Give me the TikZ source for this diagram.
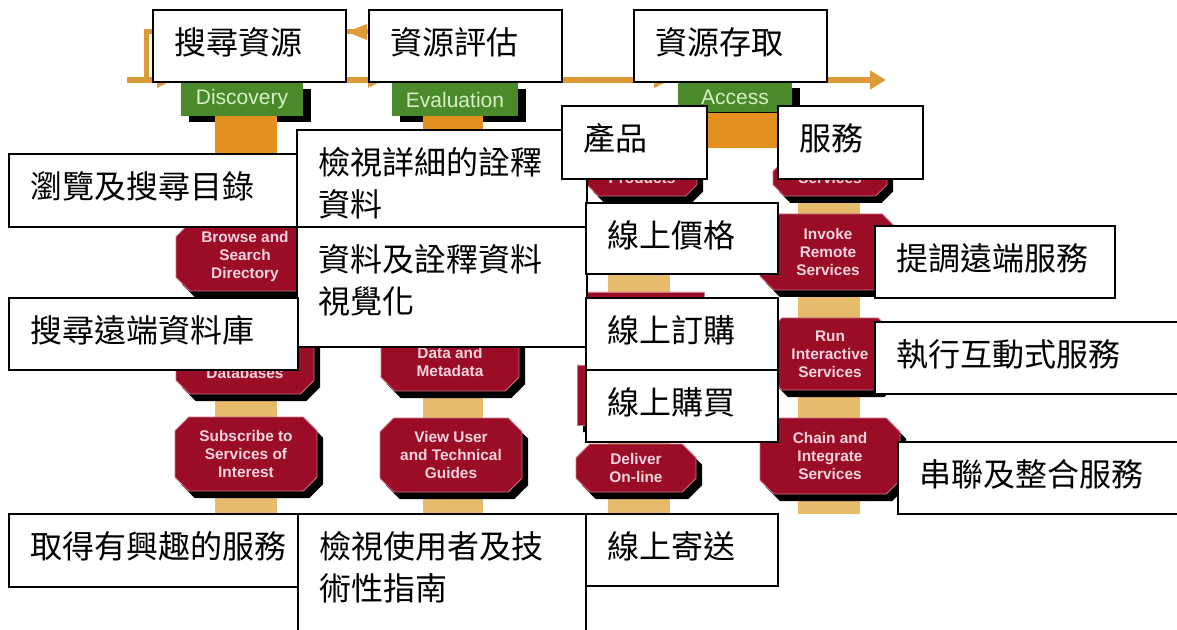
\documentclass[tikz,border=0pt]{standalone}
\usepackage{fontspec}
\setsansfont{Liberation Sans}
\newfontfamily\zhfont{Noto Sans CJK TC}
\usetikzlibrary{positioning,shadows,shapes.misc,arrows.meta}
\definecolor{flowOrange}{HTML}{DE9A36}
\definecolor{barOrange}{HTML}{E3901E}
\definecolor{lightBar}{HTML}{E6BC6C}
\definecolor{phaseGreen}{HTML}{4A8A2B}
\definecolor{phaseText}{HTML}{D8F0C4}
\definecolor{stepRed}{HTML}{9B0C26}
\definecolor{stepText}{HTML}{F6D4DC}
\tikzset{
  phase/.style={rectangle, fill=phaseGreen, text=phaseText, inner sep=0pt,
    font={\sffamily\fontsize{10.5}{12}\selectfont},
    drop shadow={shadow xshift=4pt, shadow yshift=-3pt, fill=black, opacity=1}},
  stepBox/.style={chamfered rectangle, chamfered rectangle xsep=4pt, fill=stepRed,
    draw=stepRed!55!white, line width=0.4pt, text=stepText, align=center, inner sep=0pt,
    font={\sffamily\bfseries\fontsize{7.7}{9}\selectfont},
    drop shadow={shadow xshift=3pt, shadow yshift=-3.5pt, fill=black, opacity=1}},
  textBox/.style={draw=black, fill=white, line width=0.65pt},
  zhText/.style={anchor=north west, inner sep=0pt, align=left, font={\zhfont\fontsize{16}{21}\selectfont}},
  flowLine/.style={draw=flowOrange, line width=3pt},
  flowTip/.style={fill=flowOrange}
}
% white label box: name, left, top, right, bottom, text
\newcommand{\zhBox}[6]{%
  \draw[textBox] (#2,#3) rectangle (#4,#5);
  \node[zhText] (#1) at (#2+21,#3+17) {#6};
}
\begin{document}
\begin{tikzpicture}[x=0.5pt, y=-0.5pt]
  \useasboundingbox (0,0) rectangle (1177,630);

  % flow line and loop back
  \coordinate (flowStart) at (127,80);
  \coordinate (flowEnd) at (886,80);
  \coordinate (loopStart) at (455,32);
  \coordinate (loopCorner) at (146,32);
  \coordinate (loopEnd) at (146,80);
  \draw[flowLine, -{Triangle[length=8pt, width=9pt]}] (flowStart) -- (flowEnd);
  \draw[flowLine, line width=2.5pt] (loopStart) -- (loopCorner) -- (loopEnd);
  \fill[flowTip] (347,32) -- (367,24) -- (367,40) -- cycle;
  \foreach \tipx in {173,384,670}
    \fill[flowTip] (\tipx-16,72) -- (\tipx,80) -- (\tipx-16,88) -- cycle;

  % phases
  \node[phase, minimum width=61pt, minimum height=16.5pt] (discovery) at (242,99.5) {Discovery};
  \node[phase, minimum width=63pt, minimum height=16.5pt] (evaluation) at (455,99.5) {Evaluation};
  \node[phase, minimum width=57pt, minimum height=15pt] (access) at (735,97.5) {Access};

  % bars
  \fill[barOrange] (215,116) rectangle (277,230);
  \fill[barOrange] (423,116) rectangle (483,230);
  \fill[barOrange] (608,113) rectangle (860,148);
  \fill[lightBar] (215,230) rectangle (277,514);
  \fill[lightBar] (423,230) rectangle (483,514);
  \fill[lightBar] (608,148) rectangle (670,514);
  \fill[lightBar] (798,148) rectangle (860,514);

  % steps
  \node[stepBox, minimum width=69pt, minimum height=34pt] (browse) at (245,257) {Browse and\\Search\\Directory};
  \node[stepBox, minimum width=69pt, minimum height=39pt] (remoteDb) at (245,355) {\vphantom{Ag}\\\vphantom{Ag}\\Databases};
  \node[stepBox, minimum width=71pt, minimum height=37pt] (subscribe) at (246,454) {Subscribe to\\Services of\\Interest};
  \node[stepBox, minimum width=69pt, minimum height=38pt] (visualize) at (450,353) {\vphantom{Ag}\\Data and\\Metadata};
  \node[stepBox, minimum width=71pt, minimum height=37pt] (guides) at (451,455) {View User\\and Technical\\Guides};
  \node[stepBox, minimum width=55pt, minimum height=18pt] (products) at (642,178) {Products};
  \node[stepBox, minimum width=59pt, minimum height=30pt] (order) at (645,322) {};
  \node[stepBox, minimum width=60pt, minimum height=30pt] (pay) at (637,395) {};
  \node[stepBox, minimum width=60pt, minimum height=24pt] (deliver) at (636,468) {Deliver\\On-line};
  \node[stepBox, minimum width=57pt, minimum height=18pt] (services) at (830,178) {Services};
  \node[stepBox, minimum width=68pt, minimum height=38pt] (invoke) at (828,252) {Invoke\\Remote\\Services};
  \node[stepBox, minimum width=62pt, minimum height=36pt] (runSvc) at (830,354) {Run\\Interactive\\Services};
  \node[stepBox, minimum width=70pt, minimum height=38pt] (chain) at (830,456) {Chain and\\Integrate\\Services};

  % white labels
  \zhBox{searchZh}{153}{10}{346}{82}{搜尋資源}
  \zhBox{evalZh}{369}{10}{562}{82}{資源評估}
  \zhBox{accessZh}{634}{10}{827}{82}{資源存取}
  \zhBox{browseZh}{9}{154}{298}{227}{瀏覽及搜尋目錄}
  \zhBox{detailZh}{297}{130}{587}{227}{檢視詳細的詮釋\\資料}
  \zhBox{productZh}{562}{106}{707}{179}{產品}
  \zhBox{serviceZh}{778}{106}{923}{179}{服務}
  \zhBox{visualZh}{297}{227}{587}{347}{資料及詮釋資料\\視覺化}
  \zhBox{priceZh}{586}{203}{778}{274}{線上價格}
  \zhBox{remoteZh}{9}{298}{298}{370}{搜尋遠端資料庫}
  \zhBox{invokeZh}{875}{226}{1115}{298}{提調遠端服務}
  \zhBox{orderZh}{586}{298}{778}{370}{線上訂購}
  \zhBox{runZh}{875}{322}{1190}{394}{執行互動式服務}
  \zhBox{payZh}{586}{370}{778}{442}{線上購買}
  \zhBox{chainZh}{898}{442}{1190}{514}{串聯及整合服務}
  \zhBox{subscribeZh}{9}{514}{298}{587}{取得有興趣的服務}
  \zhBox{guideZh}{298}{514}{586}{640}{檢視使用者及技\\術性指南}
  \zhBox{deliverZh}{586}{514}{778}{586}{線上寄送}
\end{tikzpicture}
\end{document}
